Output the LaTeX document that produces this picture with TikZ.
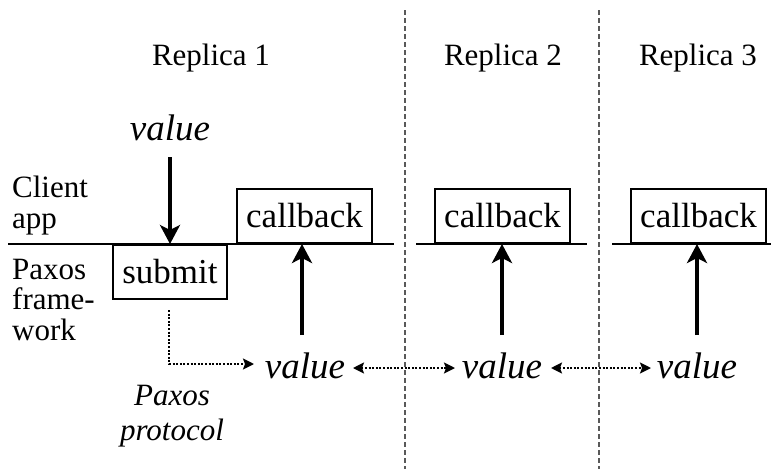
\documentclass[tikz,border=0pt]{standalone}
\usepackage{fontspec}
\setmainfont{Liberation Serif}
\usetikzlibrary{arrows.meta}
\begin{document}
\begin{tikzpicture}[x=1pt,y=-1pt,
  lbl/.style={font=\fontsize{31}{34}\selectfont, inner sep=0pt},
  boxlbl/.style={draw, line width=2pt, font=\fontsize{35}{38}\selectfont, inner sep=0pt, minimum height=54pt, minimum width=135pt, anchor=south},
  val/.style={font=\fontsize{37}{40}\selectfont\itshape, inner sep=0pt},
  ital/.style={font=\fontsize{31}{34}\selectfont\itshape, inner sep=0pt},
  sep/.style={line width=2pt},
  divider/.style={gray!70!black, line width=1.3pt, dash pattern=on 5pt off 3pt},
  boldarrow/.style={line width=4pt, -{Stealth[length=19pt,width=20pt,inset=5pt]}},
  dotarrow/.style={line width=2pt, dash pattern=on 2pt off 1.6pt, -{Stealth[length=11pt,width=11pt,inset=2pt]}},
  dotboth/.style={line width=2pt, dash pattern=on 2pt off 1.6pt, {Stealth[length=11pt,width=11pt,inset=2pt]}-{Stealth[length=11pt,width=11pt,inset=2pt]}}
]
\useasboundingbox (0,0) rectangle (771,469);

% dividers
\draw[divider] (405,10) -- (405,469);
\draw[divider] (599,10) -- (599,469);

% replica titles
\node[lbl, anchor=base] (r1) at (211,65) {Replica 1};
\node[lbl, anchor=base] (r2) at (503,65) {Replica 2};
\node[lbl, anchor=base] (r3) at (698,65) {Replica 3};

% layer separator lines
\coordinate (l1a) at (8,244);
\coordinate (l1b) at (394,244);
\coordinate (l2a) at (416,244);
\coordinate (l2b) at (587,244);
\coordinate (l3a) at (612,244);
\coordinate (l3b) at (771,244);
\draw[sep] (l1a) -- (l1b);
\draw[sep] (l2a) -- (l2b);
\draw[sep] (l3a) -- (l3b);

% left labels
\node[lbl, anchor=base west] (c1) at (12,197) {Client};
\node[lbl, anchor=base west] (c2) at (12,228) {app};
\node[lbl, anchor=base west] (p1) at (12,279) {Paxos};
\node[lbl, anchor=base west] (p2) at (12,309) {frame-};
\node[lbl, anchor=base west] (p3) at (12,340) {work};

% boxes
\node[boxlbl] (cb1) at (304.5,244) {callback};
\node[boxlbl] (cb2) at (502.5,244) {callback};
\node[boxlbl] (cb3) at (698.5,244) {callback};
\node[boxlbl, anchor=north, minimum width=114pt] (sub) at (170,244) {submit};

% client value
\node[val, anchor=base] (vtop) at (170,140) {value};
\coordinate (vstart) at (170,157);
\draw[boldarrow, line width=3.2pt] (vstart) -- (sub.north);

% bottom values
\node[val, anchor=base] (v1) at (305,378) {value};
\node[val, anchor=base] (v2) at (502,378) {value};
\node[val, anchor=base] (v3) at (697,378) {value};

\coordinate (s1) at (302,335);
\coordinate (s2) at (502,335);
\coordinate (s3) at (697,335);
\draw[boldarrow] (s1) -- (s1 |- cb1.south);
\draw[boldarrow] (s2) -- (s2 |- cb2.south);
\draw[boldarrow] (s3) -- (s3 |- cb3.south);

% paxos protocol
\coordinate (pstart) at (169,310);
\coordinate (bend) at (169,364);
\coordinate (pend) at (254,364);
\draw[dotarrow] (pstart) -- (bend) -- (pend);
\coordinate (d1a) at (353,368);
\coordinate (d1b) at (455,368);
\coordinate (d2a) at (551,368);
\coordinate (d2b) at (651,368);
\draw[dotboth] (d1a) -- (d1b);
\draw[dotboth] (d2a) -- (d2b);

\node[ital, anchor=base] (pp1) at (172,405) {Paxos};
\node[ital, anchor=base] (pp2) at (172,440) {protocol};
\end{tikzpicture}
\end{document}
